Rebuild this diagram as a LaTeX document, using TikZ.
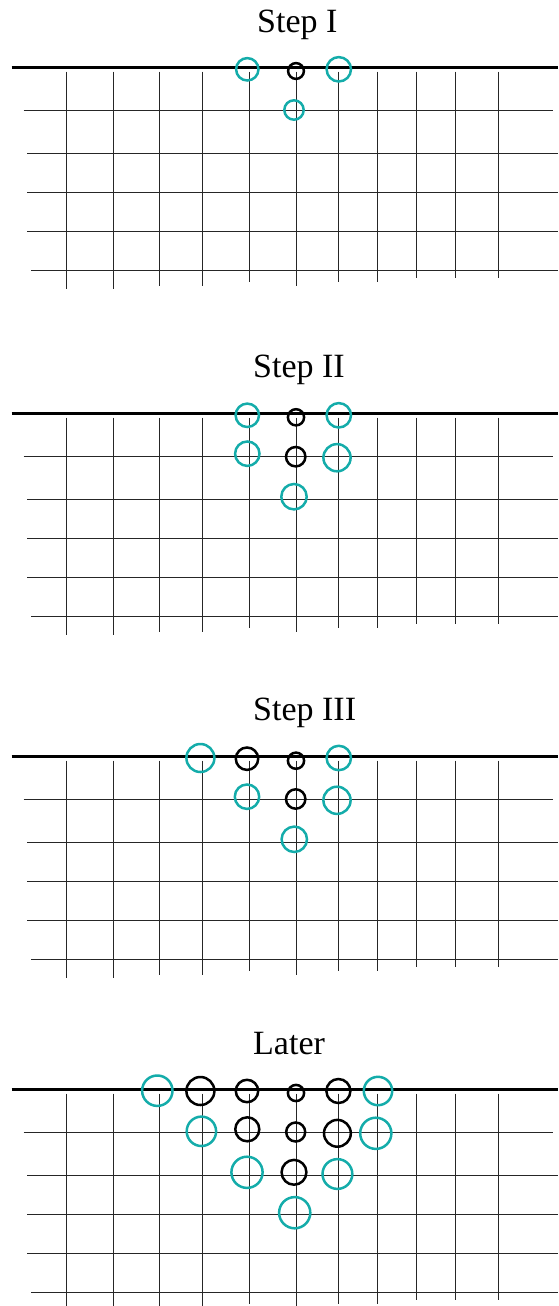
\documentclass[tikz,border=0pt]{standalone}
\usepackage{fontspec}
\setmainfont{Liberation Serif}
\definecolor{ringcyan}{RGB}{20,172,170}
\tikzset{
  baseline rule/.style={line width=2.5pt, black},
  gridline/.style={line width=1pt, black!85},
  ring/.style={circle, draw, line width=2.5pt, inner sep=0pt, minimum size=#1},
  cy/.style={ring=#1, draw=ringcyan},
  bk/.style={ring=#1, draw=black},
  steptitle/.style={anchor=base west, inner sep=0pt, font=\fontsize{34}{40}\selectfont}
}
\newcommand{\gridpanel}{%
  \draw[baseline rule] (11.7,0) -- (558,0);
  \foreach \xx/\bb in {66.2/222,113.2/222,159.8/218.5,202.8/218.5,249.5/214.5,296/218.5,338.8/214.5,377.6/214.5,416.7/210.5,455.5/210.5,498/210.5}
    \draw[gridline] (\xx,4.4) -- (\xx,\bb);
  \draw[gridline] (23.5,43) -- (552.7,43);
  \draw[gridline] (27.4,86) -- (558,86);
  \draw[gridline] (27.4,125) -- (558,125);
  \draw[gridline] (27.4,164) -- (558,164);
  \draw[gridline] (31.3,203) -- (558,203);
}
\begin{document}
\begin{tikzpicture}[x=1pt,y=-1pt]
\useasboundingbox (0,0) rectangle (558,1306);
% Panel 1
\begin{scope}[yshift=-67.3pt]
  \gridpanel
  \node[steptitle] (t1) at (257,-35) {Step I};
  \node[cy=22.4] (p1a) at (247.3,2) {};
  \node[bk=15.8] (p1b) at (296,3.7) {};
  \node[cy=24.4] (p1c) at (338.8,2) {};
  \node[cy=19.4] (p1d) at (294,42.7) {};
\end{scope}
% Panel 2
\begin{scope}[yshift=-413.3pt]
  \gridpanel
  \node[steptitle] (t2) at (253,-36) {Step II};
  \node[cy=23.4] (p2a) at (247.3,2) {};
  \node[bk=16.2] (p2b) at (296,4) {};
  \node[cy=24.4] (p2c) at (338.8,2) {};
  \node[cy=24.4] (p2d) at (247.3,40.4) {};
  \node[bk=19.4] (p2e) at (295.7,43.4) {};
  \node[cy=27.2] (p2f) at (337,44.4) {};
  \node[cy=25.4] (p2g) at (294,83.4) {};
\end{scope}
% Panel 3
\begin{scope}[yshift=-756.3pt]
  \gridpanel
  \node[steptitle] (t3) at (253,-36) {Step III};
  \node[cy=28] (p3a) at (200.4,1.7) {};
  \node[bk=22.4] (p3b) at (247,2.4) {};
  \node[bk=16.2] (p3c) at (296,4.4) {};
  \node[cy=24.4] (p3d) at (338.8,1.7) {};
  \node[cy=24.4] (p3e) at (247,40.4) {};
  \node[bk=19.4] (p3f) at (295.7,42.7) {};
  \node[cy=27.2] (p3g) at (337,44) {};
  \node[cy=25.4] (p3h) at (294.3,83) {};
\end{scope}
% Panel 4
\begin{scope}[yshift=-1089.3pt]
  \gridpanel
  \node[steptitle] (t4) at (253,-35) {Later};
  \node[cy=30.4] (p4a) at (157.3,1.4) {};
  \node[bk=28] (p4b) at (200.4,1.7) {};
  \node[bk=22.4] (p4c) at (247,1.7) {};
  \node[bk=16.2] (p4d) at (296,3.7) {};
  \node[bk=24] (p4e) at (338.4,1.7) {};
  \node[cy=28.4] (p4f) at (378,1.7) {};
  \node[cy=29.4] (p4g) at (201.4,42) {};
  \node[bk=24] (p4h) at (247.3,40) {};
  \node[bk=19] (p4i) at (295.7,42.7) {};
  \node[bk=26.8] (p4j) at (337.4,44) {};
  \node[cy=31.2] (p4k) at (375.8,44) {};
  \node[cy=31.2] (p4l) at (247,83) {};
  \node[bk=24.8] (p4m) at (294,83) {};
  \node[cy=29.8] (p4n) at (337.4,84.7) {};
  \node[cy=31.2] (p4o) at (294.7,123.4) {};
\end{scope}
\end{tikzpicture}
\end{document}
